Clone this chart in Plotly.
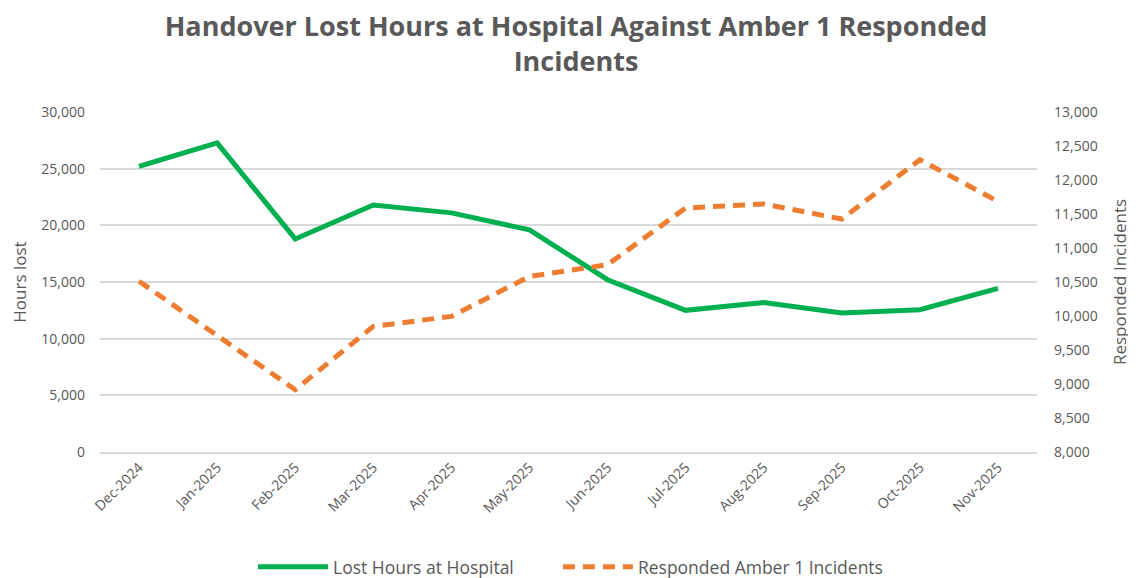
import plotly.graph_objects as go

months = ["Dec-2024", "Jan-2025", "Feb-2025", "Mar-2025", "Apr-2025", "May-2025",
          "Jun-2025", "Jul-2025", "Aug-2025", "Sep-2025", "Oct-2025", "Nov-2025"]
lost_hours = [25200, 27270, 18800, 21800, 21100, 19600, 15200, 12500, 13200, 12270, 12560, 14440]
amber1_incidents = [10510, 9710, 8916, 9847, 9994, 10582, 10754, 11588, 11647, 11426, 12299, 11685]

FONT = "Open Sans"
GREY = "#595959"

fig = go.Figure()
fig.add_trace(go.Scatter(
    x=months, y=lost_hours, name="Lost Hours at Hospital", mode="lines",
    line=dict(color="#00B050", width=5), yaxis="y", legend="legend"))
fig.add_trace(go.Scatter(
    x=months, y=amber1_incidents, name="Responded Amber 1 Incidents", mode="lines",
    line=dict(color="#ED7D31", width=5, dash="12px,8px"), yaxis="y2", legend="legend2"))

legend_style = dict(orientation="h", y=-0.338, yanchor="middle",
                    font=dict(size=17.5, color=GREY), itemwidth=70,
                    bgcolor="rgba(0,0,0,0)")

fig.update_layout(
    width=1136, height=578,
    margin=dict(l=92, r=107, t=104, b=134, autoexpand=False),
    paper_bgcolor="white", plot_bgcolor="white",
    font=dict(family=FONT, color=GREY, size=13),
    title=dict(text="Handover Lost Hours at Hospital Against Amber 1 Responded<br>Incidents",
               x=0.5, xanchor="center", y=0.951, yanchor="top",
               font=dict(family=FONT, size=27, color=GREY, weight="bold")),
    xaxis=dict(type="category", range=[-0.5, 11.5], tickangle=-45, automargin=False,
               showgrid=False, showline=True, linecolor="#D9D9D9", linewidth=1.5,
               ticks="", tickfont=dict(size=14, color=GREY)),
    yaxis=dict(range=[0, 30000], dtick=5000, tickformat=",", showgrid=True, automargin=False,
               gridcolor="#D9D9D9", gridwidth=1.5, zeroline=False,
               title=dict(text="Hours lost", font=dict(size=17, color=GREY), standoff=13),
               tickfont=dict(size=14, color=GREY), ticks="", ticklabelstandoff=14),
    yaxis2=dict(range=[8000, 13000], dtick=500, tickformat=",", overlaying="y", automargin=False,
                side="right", showgrid=False, zeroline=False,
                title=dict(text="Responded Incidents", font=dict(size=17, color=GREY), standoff=17),
                tickfont=dict(size=14, color=GREY), ticks="", ticklabelstandoff=16),
    legend=dict(x=0.1633, xanchor="left", **legend_style),
    legend2=dict(x=0.4887, xanchor="left", **legend_style),
    showlegend=True,
)

fig.write_html("out.html")
